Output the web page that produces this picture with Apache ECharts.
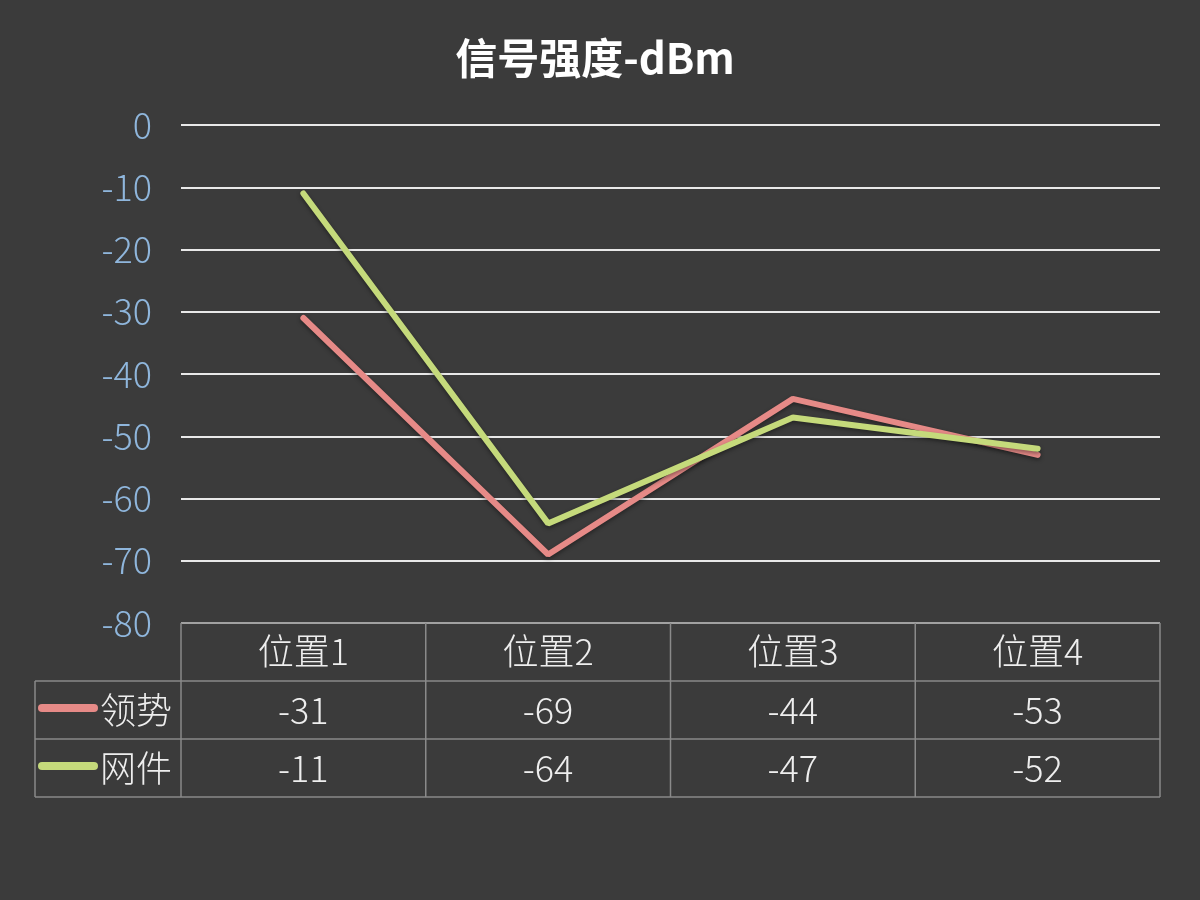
<!DOCTYPE html>
<html><head><meta charset="utf-8">
<script src="https://cdn.jsdelivr.net/npm/echarts@6/dist/echarts.min.js"></script>
<style>html,body{margin:0;padding:0;background:#3b3b3b}#c{width:1200px;height:900px}</style>
</head><body><div id="c"></div>
<script>
var categories = ['位置1', '位置2', '位置3', '位置4'];
var seriesNames = ['领势', '网件'];
var linksysValues = [-31, -69, -44, -53];
var netgearValues = [-11, -64, -47, -52];
var colors = ['#e68a87', '#c5da7b'];
var FONT = '"Noto Sans CJK SC", "Noto Sans", sans-serif';

var chart = echarts.init(document.getElementById('c'));
var option = {
  backgroundColor: '#3b3b3b',
  animation: false,
  title: {
    text: '信号强度-dBm', left: 590, top: 32, textAlign: 'center',
    textStyle: { color: '#ffffff', fontSize: 42, fontWeight: 'bold', fontFamily: FONT }
  },
  grid: { left: 181, right: 40, top: 125, bottom: 277 },
  xAxis: {
    type: 'category', data: categories, boundaryGap: true,
    axisLine: { show: false }, axisTick: { show: false },
    axisLabel: { color: '#eeeeee', fontSize: 36, fontWeight: 300, fontFamily: FONT, margin: 10 }
  },
  yAxis: {
    type: 'value', min: -80, max: 0, interval: 10,
    axisLine: { show: false }, axisTick: { show: false },
    axisLabel: { color: '#8fb6dc', fontSize: 36, fontWeight: 300, fontFamily: FONT, margin: 29 },
    splitLine: { show: true, lineStyle: { color: '#e8e8e8', width: 2 } }
  },
  series: [
    { name: seriesNames[0], type: 'line', data: linksysValues, showSymbol: false,
      lineStyle: { color: colors[0], width: 6, cap: 'round', shadowColor: 'rgba(0,0,0,0.4)', shadowBlur: 4, shadowOffsetY: 2 }, itemStyle: { color: colors[0] } },
    { name: seriesNames[1], type: 'line', data: netgearValues, showSymbol: false,
      lineStyle: { color: colors[1], width: 6, cap: 'round', shadowColor: 'rgba(0,0,0,0.4)', shadowBlur: 4, shadowOffsetY: 2 }, itemStyle: { color: colors[1] } }
  ]
};
chart.setOption(option);

// data table below the plot
var gridLeft = 181, gridRight = 1160, tableTop = 623, rowH = 58, legendLeft = 35;
var rows = [linksysValues, netgearValues];
var lineColor = '#8a8a8a';
var els = [];
var colW = (gridRight - gridLeft) / categories.length;
var cellFont = '300 36px ' + FONT;
function hline(x1, x2, y) { els.push({ type: 'line', shape: { x1: x1, y1: y, x2: x2, y2: y }, style: { stroke: lineColor, lineWidth: 1.5 }, silent: true }); }
function vline(x, y1, y2) { els.push({ type: 'line', shape: { x1: x, y1: y1, x2: x, y2: y2 }, style: { stroke: lineColor, lineWidth: 1.5 }, silent: true }); }
var bottom = tableTop + rowH * 3;
hline(gridLeft, gridRight, tableTop);
hline(legendLeft, gridRight, tableTop + rowH);
hline(legendLeft, gridRight, tableTop + rowH * 2);
hline(legendLeft, gridRight, bottom);
for (var i = 0; i <= categories.length; i++) vline(gridLeft + colW * i, tableTop, bottom);
vline(legendLeft, tableTop + rowH, bottom);
for (var r = 0; r < rows.length; r++) {
  var cy = tableTop + rowH * (r + 1) + rowH / 2;
  els.push({ type: 'line', shape: { x1: 42, y1: cy - 2, x2: 94, y2: cy - 2 }, style: { stroke: colors[r], lineWidth: 8, lineCap: 'round' }, silent: true });
  els.push({ type: 'text', x: 136, y: cy, style: { text: seriesNames[r], fill: '#eeeeee', font: cellFont, textAlign: 'center', textVerticalAlign: 'middle' }, silent: true });
  for (var c = 0; c < categories.length; c++) {
    var cx = chart.convertToPixel({ xAxisIndex: 0 }, categories[c]);
    els.push({ type: 'text', x: cx, y: cy, style: { text: String(rows[r][c]), fill: '#eeeeee', font: cellFont, textAlign: 'center', textVerticalAlign: 'middle' }, silent: true });
  }
}
chart.setOption({ graphic: { elements: els } });
</script></body></html>
